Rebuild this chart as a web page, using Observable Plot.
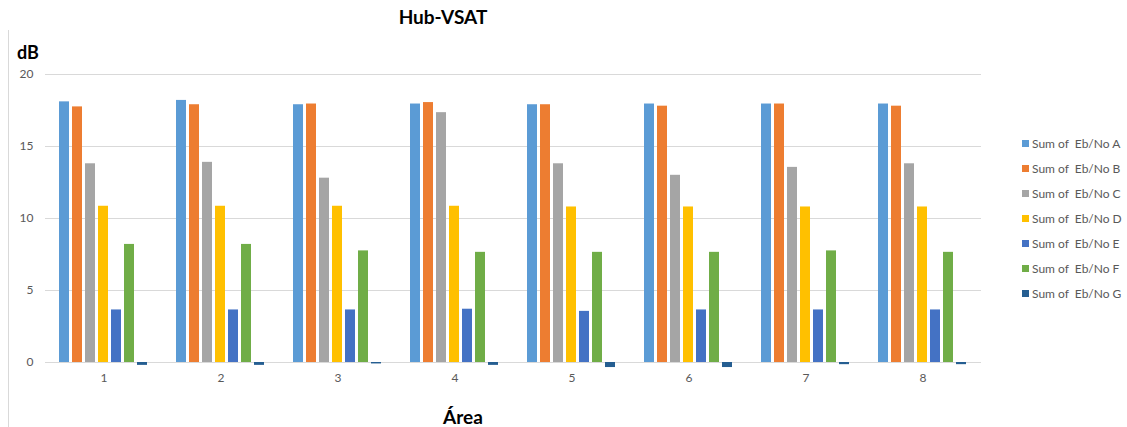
<!DOCTYPE html>
<html>
<head>
<meta charset="utf-8">
<script src="https://cdn.jsdelivr.net/npm/d3@7"></script>
<script src="https://cdn.jsdelivr.net/npm/@observablehq/plot@0.6"></script>
<style>
  html, body { margin: 0; padding: 0; background: #fff; }
  #wrap { position: relative; width: 1127px; height: 427px; overflow: hidden; font-family: Lato, "Open Sans", sans-serif; }
  #wrap svg { position: absolute; left: 0; top: 0; }
  .lbl { position: absolute; font-weight: bold; color: #000; line-height: 1; white-space: nowrap; }
  #legend { position: absolute; left: 1022px; top: 131px; font-size: 12px; color: #595959; }
  #legend .row { height: 25px; display: flex; align-items: center; white-space: pre; }
  #legend .sw { width: 7px; height: 7px; margin-right: 3px; flex: none; }
</style>
</head>
<body>
<div id="wrap">
  <div class="lbl" style="left:443px; top:7px; font-size:19px; transform:translateX(-50%);">Hub-VSAT</div>
  <div class="lbl" style="left:17px; top:43px; font-size:18px;">dB</div>
  <div class="lbl" style="left:463px; top:407px; font-size:19px; transform:translateX(-50%);">Área</div>
  <div style="position:absolute; left:8px; top:30px; width:1px; height:397px; background:#d9d9d9;"></div>
  <div id="legend"></div>
</div>
<script>
const areas = ["1", "2", "3", "4", "5", "6", "7", "8"];
const seriesNames = ["Sum of  Eb/No A", "Sum of  Eb/No B", "Sum of  Eb/No C", "Sum of  Eb/No D", "Sum of  Eb/No E", "Sum of  Eb/No F", "Sum of  Eb/No G"];
const seriesColors = ["#5B9BD5", "#ED7D31", "#A5A5A5", "#FFC000", "#4472C4", "#70AD47", "#255E91"];
const yTicks = [0, 5, 10, 15, 20];

const valuesA = [18.1, 18.2, 17.9, 17.95, 17.9, 17.95, 17.95, 17.95];
const valuesB = [17.75, 17.9, 17.95, 18.05, 17.9, 17.8, 17.95, 17.8];
const valuesC = [13.8, 13.9, 12.8, 17.35, 13.8, 13.0, 13.55, 13.8];
const valuesD = [10.85, 10.85, 10.85, 10.85, 10.8, 10.8, 10.8, 10.8];
const valuesE = [3.65, 3.65, 3.65, 3.7, 3.55, 3.65, 3.65, 3.65];
const valuesF = [8.2, 8.2, 7.75, 7.65, 7.65, 7.65, 7.75, 7.65];
const valuesG = [-0.2, -0.2, -0.1, -0.2, -0.35, -0.35, -0.15, -0.15];

const allValues = [valuesA, valuesB, valuesC, valuesD, valuesE, valuesF, valuesG];
const table = [];
areas.forEach((a, i) => {
  seriesNames.forEach((s, j) => {
    table.push({area: a, series: s, value: allValues[j][i]});
  });
});

const chart = Plot.plot({
  width: 1127,
  height: 427,
  marginTop: 74,
  marginBottom: 65,
  marginLeft: 44,
  marginRight: 145,
  style: {fontFamily: "Lato, 'Open Sans', sans-serif", fontSize: "12px", color: "#595959", background: "transparent"},
  fx: {domain: areas, padding: 0, axis: "bottom", tickSize: 0, tickPadding: 11, label: null},
  x: {domain: seriesNames, axis: null, paddingInner: 0.22, paddingOuter: 0.94},
  y: {domain: [0, 20], ticks: yTicks, tickSize: 0, tickPadding: 12, label: null},
  color: {domain: seriesNames, range: seriesColors},
  marks: [
    Plot.ruleY(yTicks, {stroke: "#d9d9d9", strokeWidth: 1}),
    Plot.barY(table, {fx: "area", x: "series", y: "value", fill: "series"})
  ]
});
document.getElementById("wrap").prepend(chart);

const legend = document.getElementById("legend");
seriesNames.forEach((s, j) => {
  const row = document.createElement("div");
  row.className = "row";
  const sw = document.createElement("span");
  sw.className = "sw";
  sw.style.background = seriesColors[j];
  const t = document.createElement("span");
  t.textContent = s;
  row.appendChild(sw);
  row.appendChild(t);
  legend.appendChild(row);
});
</script>
</body>
</html>
